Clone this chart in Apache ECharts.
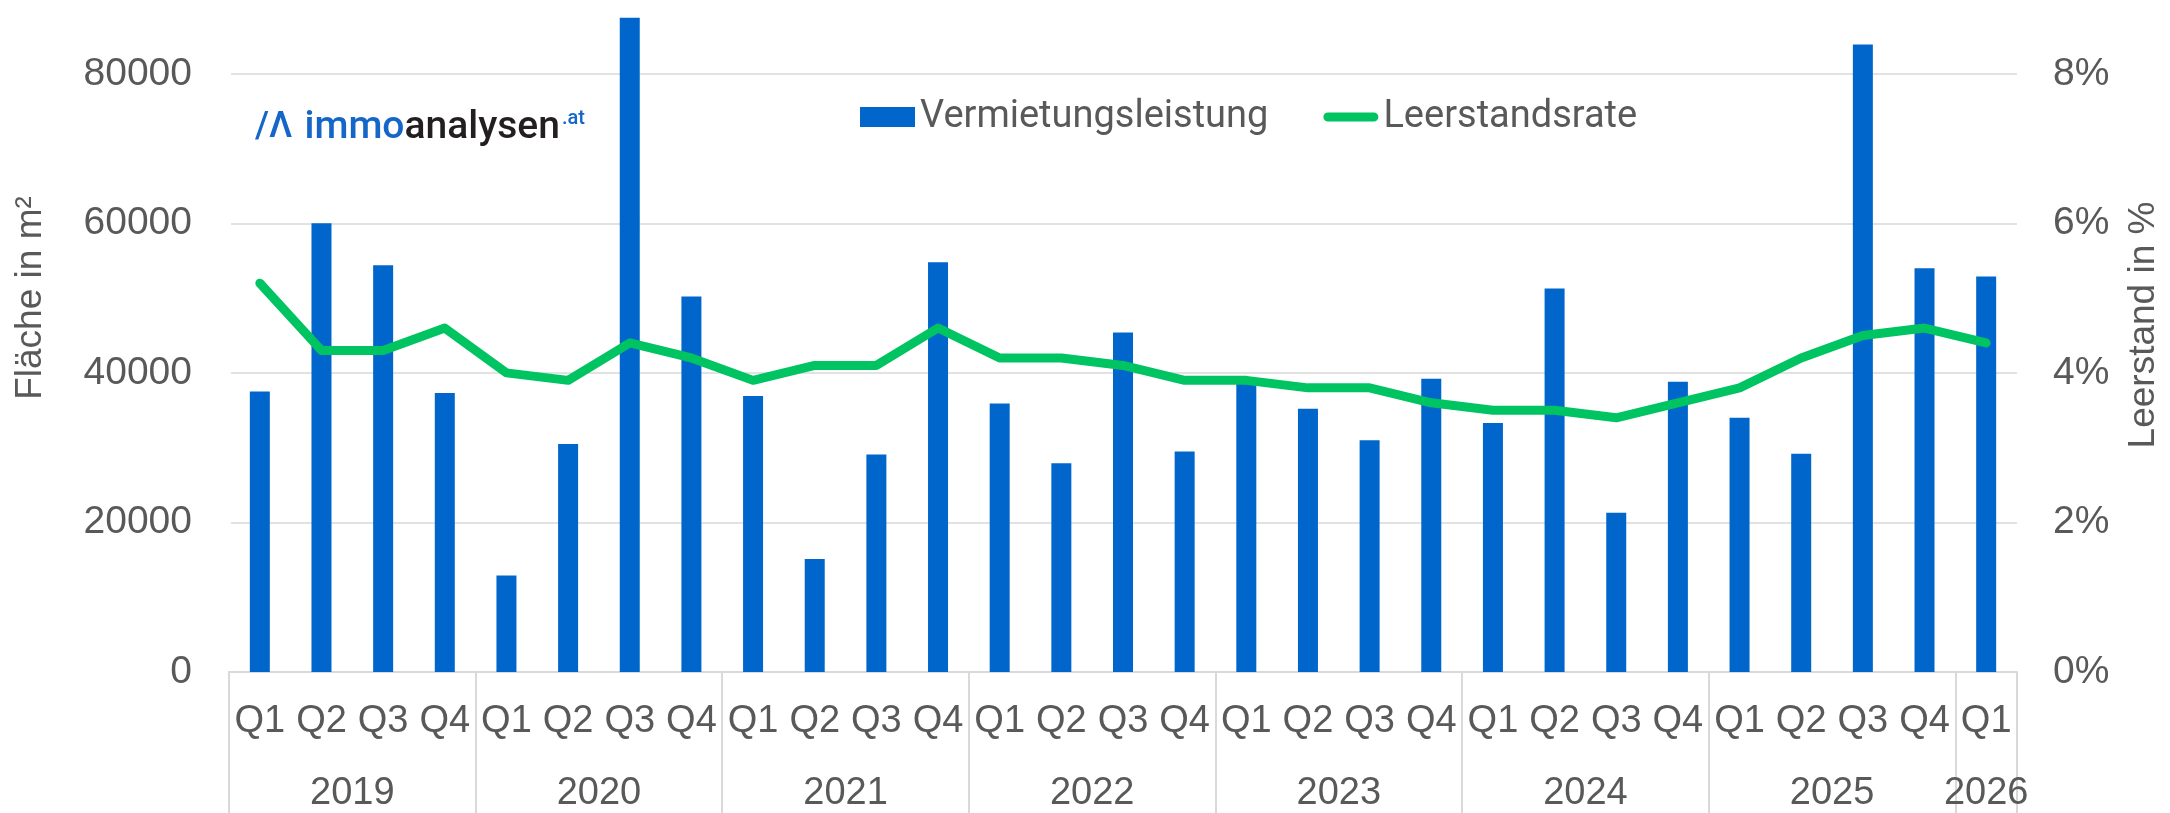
<!DOCTYPE html>
<html>
<head>
<meta charset="utf-8">
<title>Vermietungsleistung und Leerstandsrate</title>
<script src="https://cdn.jsdelivr.net/npm/echarts@6/dist/echarts.min.js"></script>
<style>
  html, body { margin: 0; padding: 0; background: #fff; }
  #chart { width: 2170px; height: 813px; }
</style>
</head>
<body>
<div id="chart"></div>
<script>
// quarter labels, one per bar
const quarters = [
  'Q1', 'Q2', 'Q3', 'Q4', 'Q1', 'Q2', 'Q3', 'Q4',
  'Q1', 'Q2', 'Q3', 'Q4', 'Q1', 'Q2', 'Q3', 'Q4',
  'Q1', 'Q2', 'Q3', 'Q4', 'Q1', 'Q2', 'Q3', 'Q4',
  'Q1', 'Q2', 'Q3', 'Q4', 'Q1'
];
const years = ['2019', '2020', '2021', '2022', '2023', '2024', '2025', '2026'];
const quartersPerYear = [4, 4, 4, 4, 4, 4, 4, 1];

// Fläche in m²
const vermietung = [
  37500, 60000, 54400, 37300, 12900, 30500, 87500, 50200,
  36900, 15100, 29100, 54800, 35900, 27900, 45400, 29500,
  38700, 35200, 31000, 39200, 33300, 51300, 21300, 38800,
  34000, 29200, 83900, 54000, 52900
];
// Leerstand in %
const leerstand = [
  5.2, 4.3, 4.3, 4.6, 4.0, 3.9, 4.4, 4.2,
  3.9, 4.1, 4.1, 4.6, 4.2, 4.2, 4.1, 3.9,
  3.9, 3.8, 3.8, 3.6, 3.5, 3.5, 3.4, 3.6,
  3.8, 4.2, 4.5, 4.6, 4.4
];

const leftTicks = [0, 20000, 40000, 60000, 80000];
const rightTicks = [0, 2, 4, 6, 8];

// the year row runs on half-quarter slots so that borders and centres both land on a slot
const slotCount = quarters.length * 2 + 1;
const slotIds = [];
for (let i = 0; i < slotCount; i++) slotIds.push(String(i));
const borderSlots = [0];
const yearLabelAt = {};
quartersPerYear.forEach(function (n, i) {
  const start = borderSlots[borderSlots.length - 1];
  yearLabelAt[start + n] = years[i];
  borderSlots.push(start + n * 2);
});

const textColor = '#595959';
const gridColor = '#d9d9d9';
const axisFont = 'Liberation Sans, Arial, sans-serif';
const barColor = '#0066cc';
const lineColor = '#00c462';

const chart = echarts.init(document.getElementById('chart'), null, { renderer: 'canvas' });

chart.setOption({
  animation: false,
  backgroundColor: '#fff',
  grid: { left: 229, right: 148, top: -2, bottom: 141 },
  legend: {
    left: 855,
    top: 93,
    itemWidth: 55,
    itemHeight: 20,
    itemGap: 55,
    textStyle: { fontFamily: 'Roboto', fontSize: 38, color: textColor },
    data: [
      { name: 'Vermietungsleistung', icon: 'rect' },
      { name: 'Leerstandsrate', icon: 'path://M5,0 L55,0 A5,5 0 0 1 55,10 L5,10 A5,5 0 0 1 5,0 Z' }
    ]
  },
  graphic: [{
    // white strip over a stray vertical rule at the plot's left edge
    type: 'rect',
    left: 219,
    top: 0,
    z: 1000,
    silent: true,
    shape: { width: 12, height: 669 },
    style: { fill: '#fff' }
  }, {
    type: 'text',
    x: 255,
    y: 128,
    z: 1001,
    style: {
      text: '{a|/Λ}{b|immo}{c|analysen}{d|.at}',
      verticalAlign: 'middle',
      rich: {
        a: { fontFamily: 'Roboto', fontSize: 36, fontWeight: 500, fill: '#1466c8', padding: [0, 12, 0, 0] },
        b: { fontFamily: 'Roboto', fontSize: 39, fontWeight: 500, fill: '#1466c8' },
        c: { fontFamily: 'Roboto', fontSize: 39, fontWeight: 500, fill: '#231f20' },
        d: { fontFamily: 'Roboto', fontSize: 20, fontWeight: 500, fill: '#1466c8', verticalAlign: 'top', padding: [0, 0, 0, 2] }
      }
    }
  }],
  xAxis: [{
    type: 'category',
    data: quarters,
    position: 'bottom',
    axisLine: { onZero: false, lineStyle: { color: gridColor, width: 2 } },
    axisTick: { show: false },
    splitLine: { show: false },
    axisLabel: {
      interval: 0,
      margin: 31,
      fontFamily: axisFont,
      fontSize: 38,
      lineHeight: 38,
      color: textColor
    }
  }, {
    type: 'category',
    data: slotIds,
    position: 'bottom',
    boundaryGap: false,
    axisLine: { show: false, onZero: false },
    splitLine: { show: false },
    axisTick: {
      show: true,
      interval: function (index) { return borderSlots.indexOf(index) >= 0; },
      length: 141,
      lineStyle: { color: gridColor, width: 2 }
    },
    axisLabel: {
      interval: function (index) { return yearLabelAt[index] !== undefined; },
      margin: 103,
      fontFamily: axisFont,
      fontSize: 38,
      lineHeight: 38,
      color: textColor,
      formatter: function (value, index) { return yearLabelAt[index] || ''; }
    }
  }],
  yAxis: [{
    type: 'value',
    min: leftTicks[0],
    max: 89867,
    interval: leftTicks[1] - leftTicks[0],
    name: 'Fläche in m²',
    nameLocation: 'middle',
    nameRotate: 90,
    nameGap: 180,
    nameTextStyle: { fontFamily: axisFont, fontSize: 37, color: textColor, padding: [0, 0, 0, 76] },
    axisLine: { show: false },
    axisTick: { show: false },
    splitLine: { showMaxLine: false, lineStyle: { color: gridColor, width: 1.5 } },
    axisLabel: {
      margin: 37,
      showMaxLabel: false,
      fontFamily: axisFont,
      fontSize: 39,
      color: textColor,
      formatter: function (v) { return leftTicks.indexOf(v) >= 0 ? String(v) : ''; }
    }
  }, {
    type: 'value',
    min: rightTicks[0],
    max: 8.9867,
    interval: rightTicks[1] - rightTicks[0],
    position: 'right',
    name: 'Leerstand in %',
    nameLocation: 'middle',
    nameRotate: 90,
    nameGap: 108,
    nameTextStyle: { fontFamily: axisFont, fontSize: 37, color: textColor, padding: [0, 0, 0, 22] },
    axisLine: { show: false },
    axisTick: { show: false },
    splitLine: { show: false },
    axisLabel: {
      margin: 36,
      showMaxLabel: false,
      fontFamily: axisFont,
      fontSize: 39,
      color: textColor,
      formatter: function (v) { return rightTicks.indexOf(v) >= 0 ? v + '%' : ''; }
    }
  }],
  series: [{
    name: 'Vermietungsleistung',
    type: 'bar',
    xAxisIndex: 0,
    yAxisIndex: 0,
    data: vermietung,
    barWidth: 20,
    itemStyle: { color: barColor }
  }, {
    name: 'Leerstandsrate',
    type: 'line',
    xAxisIndex: 0,
    yAxisIndex: 1,
    data: leerstand,
    symbol: 'none',
    lineStyle: { color: lineColor, width: 9, cap: 'round', join: 'round' },
    itemStyle: { color: lineColor },
    z: 3
  }]
});
</script>
</body>
</html>
